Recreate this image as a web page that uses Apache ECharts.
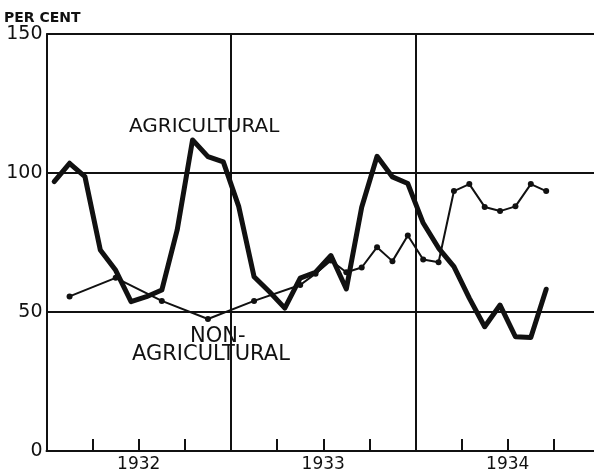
<!DOCTYPE html>
<html>
<head>
<meta charset="utf-8">
<script src="https://cdn.jsdelivr.net/npm/echarts@6/dist/echarts.min.js"></script>
<style>
html,body{margin:0;padding:0;background:#fff;}
#chart{width:594px;height:470px;}
</style>
</head>
<body>
<div id="chart"></div>
<script>
// Months from Jan 1932 (index 0) to Sep 1934 (index 32); points plotted at mid-month
var years = ['1932', '1933', '1934'];
var yTicks = [0, 50, 100, 150];
var agricultural = [96.9, 103.5, 98.7, 72.3, 65, 53.7, 55.5, 57.9, 79.5, 111.9, 105.9, 104,
                    88, 62.7, 57.3, 51.4, 62.2, 64.3, 70.3, 58.3, 87.7, 106, 98.6, 96.2,
                    82, 73, 66.3, 55, 44.7, 52.5, 41.1, 40.8, 58.2];
var nonAgricultural = [null, 55.6, null, null, 62.3, null, null, 54, null, null, 47.5, null,
                       null, 54, null, null, 59.7, 63.8, 68.5, 64.3, 66, 73.3, 68.3, 77.5,
                       68.9, 67.9, 93.5, 96, 87.8, 86.3, 88, 96, 93.5];

function toPairs(arr) {
  var out = [];
  arr.forEach(function (v, i) { if (v !== null) out.push([i + 0.5, v]); });
  return out;
}

var chart = echarts.init(document.getElementById('chart'), null, {renderer: 'canvas'});
var INK = '#111';
var option = {
  animation: false,
  backgroundColor: '#fff',
  grid: {left: 46.5, top: 34, width: 553.5, bottom: 19, containLabel: false, outerBoundsMode: 'none'},
  xAxis: [{
    type: 'value', min: 0, max: 36, interval: 3,
    axisLine: {show: true, lineStyle: {color: INK, width: 2}},
    axisTick: {show: true, inside: true, length: 12, lineStyle: {color: INK, width: 2}},
    axisLabel: {
      show: true, margin: 5, color: INK,
      fontFamily: 'DejaVu Sans', fontSize: 17,
      formatter: function (v) { return (v % 12 === 6) ? years[(v - 6) / 12] : ''; }
    },
    splitLine: {show: false}
  }, {
    type: 'value', min: 0, max: 36, interval: 12, position: 'bottom',
    axisLine: {show: false}, axisTick: {show: false}, axisLabel: {show: false},
    splitLine: {show: true, lineStyle: {color: INK, width: 2}}
  }],
  yAxis: {
    type: 'value', min: yTicks[0], max: yTicks[yTicks.length - 1], interval: 50,
    axisLine: {show: true, lineStyle: {color: INK, width: 2}},
    axisTick: {show: false},
    axisLabel: {color: INK, margin: 4, fontFamily: 'DejaVu Sans', fontSize: 19},
    splitLine: {show: true, lineStyle: {color: INK, width: 2}}
  },
  series: [{
    name: 'AGRICULTURAL', type: 'line', data: toPairs(agricultural),
    showSymbol: false, symbol: 'none',
    lineStyle: {color: INK, width: 5, join: 'round', cap: 'round'},
    z: 3
  }, {
    name: 'NON-AGRICULTURAL', type: 'line', data: toPairs(nonAgricultural),
    symbol: 'circle', symbolSize: 6, showSymbol: true,
    itemStyle: {color: INK},
    lineStyle: {color: INK, width: 2},
    z: 4
  }],
  graphic: [{
    type: 'text', left: 4, top: 11,
    style: {text: 'PER CENT', fill: INK, font: 'bold 14px "DejaVu Sans"'}
  }, {
    type: 'text', left: 129, top: 117,
    style: {text: 'AGRICULTURAL', fill: INK, font: '20px "DejaVu Sans"'}
  }, {
    type: 'text', left: 190, top: 326,
    style: {text: 'NON-', fill: INK, font: '21px "DejaVu Sans"'}
  }, {
    type: 'text', left: 132, top: 344,
    style: {text: 'AGRICULTURAL', fill: INK, font: '21px "DejaVu Sans"'}
  }]
};
chart.setOption(option);
</script>
</body>
</html>
